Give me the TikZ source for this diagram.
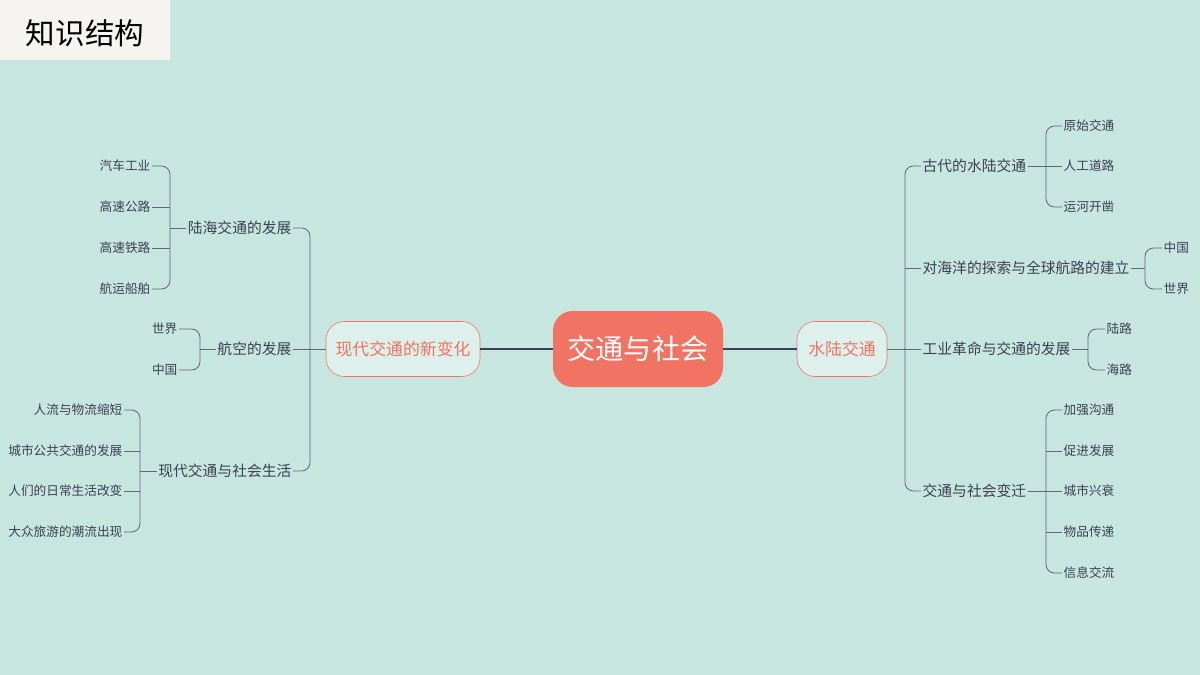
\documentclass[tikz,border=0pt]{standalone}
\usepackage{fontspec}
\setmainfont{Noto Sans CJK SC}
\usetikzlibrary{positioning, calc}
\definecolor{bgteal}{HTML}{C7E6E0}
\definecolor{salmon}{HTML}{F07363}
\definecolor{inkgray}{HTML}{3B3F52}
\definecolor{linenavy}{HTML}{3A3F5C}
\definecolor{titlebg}{HTML}{F6F4F0}

\begin{document}
\begin{tikzpicture}[
    x=0.025cm, y=-0.025cm,
    main/.style={rectangle, rounded corners=14pt, fill=salmon, text=white, minimum width=170*0.025cm, minimum height=76*0.025cm, font=\fontsize{20}{22}\selectfont},
    topic/.style={rectangle, rounded corners=13pt, draw=salmon, fill=bgteal!60!white, text=salmon, minimum height=55*0.025cm, font=\fontsize{12}{14}\selectfont},
    lvone/.style={inner sep=1pt, text=inkgray, font=\fontsize{10.5}{12}\selectfont},
    lvtwo/.style={inner sep=1pt, text=inkgray, font=\fontsize{9}{11}\selectfont},
    link/.style={draw=linenavy, line width=1.4pt},
    brace/.style={draw=linenavy!80, line width=0.6pt, rounded corners=6pt}
]
\fill[bgteal] (0,0) rectangle (1200,675);
\fill[titlebg] (0,0) rectangle (170,60);
\node[font=\fontsize{21}{24}\selectfont, text=black] (title) at (85,33) {知识结构};

% centre
\node[main] (root) at (638,349) {交通与社会};
\node[topic, minimum width=154*0.025cm] (modern) at (403,349) {现代交通的新变化};
\node[topic, minimum width=90*0.025cm] (water) at (842,349) {水陆交通};
\draw[link] (root) -- (modern);
\draw[link] (root) -- (water);

% right side
\node[lvone, anchor=west] (ancient) at (921,166) {古代的水陆交通};
\node[lvone, anchor=west] (ocean) at (921,268) {对海洋的探索与全球航路的建立};
\node[lvone, anchor=west] (indus) at (921,349) {工业革命与交通的发展};
\node[lvone, anchor=west] (change) at (921,491) {交通与社会变迁};
\draw[brace] (ancient.west) -- (905,166) |- (change.west);
\draw[brace] (ocean.west) -- (905,268);
\draw[brace] (water.east) -- (indus.west);

\node[lvtwo, anchor=west] (orig) at (1062,126) {原始交通};
\node[lvtwo, anchor=west] (road) at (1062,166) {人工道路};
\node[lvtwo, anchor=west] (canal) at (1062,207) {运河开凿};
\draw[brace] (orig.west) -- (1046,126) |- (canal.west);
\draw[brace] (ancient.east) -- (road.west);

\node[lvtwo, anchor=west] (ocn) at (1162,248) {中国};
\node[lvtwo, anchor=west] (ows) at (1162,289) {世界};
\draw[brace] (ocn.west) -- (1145,248) |- (ows.west);
\draw[brace] (ocean.east) -- (1145,268);

\node[lvtwo, anchor=west] (land) at (1105,329) {陆路};
\node[lvtwo, anchor=west] (sea) at (1105,370) {海路};
\draw[brace] (land.west) -- (1088,329) |- (sea.west);
\draw[brace] (indus.east) -- (1088,349);

\node[lvtwo, anchor=west] (ca) at (1062,410) {加强沟通};
\node[lvtwo, anchor=west] (cb) at (1062,451) {促进发展};
\node[lvtwo, anchor=west] (cc) at (1062,491) {城市兴衰};
\node[lvtwo, anchor=west] (cd) at (1062,532) {物品传递};
\node[lvtwo, anchor=west] (ce) at (1062,573) {信息交流};
\draw[brace] (ca.west) -- (1046,410) |- (ce.west);
\draw[brace] (cb.west) -- (1046,451);
\draw[brace] (cd.west) -- (1046,532);
\draw[brace] (change.east) -- (cc.west);

% left side
\node[lvone, anchor=east] (landsea) at (293,228) {陆海交通的发展};
\node[lvone, anchor=east] (air) at (293,349) {航空的发展};
\node[lvone, anchor=east] (life) at (293,471) {现代交通与社会生活};
\draw[brace] (landsea.east) -- (310,228) |- (life.east);
\draw[brace] (modern.west) -- (air.east);

\node[lvtwo, anchor=east] (car) at (152,166) {汽车工业};
\node[lvtwo, anchor=east] (hwy) at (152,207) {高速公路};
\node[lvtwo, anchor=east] (rail) at (152,248) {高速铁路};
\node[lvtwo, anchor=east] (ship) at (152,289) {航运船舶};
\draw[brace] (car.east) -- (170,166) |- (ship.east);
\draw[brace] (hwy.east) -- (170,207);
\draw[brace] (rail.east) -- (170,248);
\draw[brace] (landsea.west) -- (170,228);

\node[lvtwo, anchor=east] (aws) at (179,329) {世界};
\node[lvtwo, anchor=east] (acn) at (179,370) {中国};
\draw[brace] (aws.east) -- (200,329) |- (acn.east);
\draw[brace] (air.west) -- (200,349);

\node[lvtwo, anchor=east] (la) at (124,410) {人流与物流缩短};
\node[lvtwo, anchor=east] (lb) at (124,451) {城市公共交通的发展};
\node[lvtwo, anchor=east] (lc) at (124,491) {人们的日常生活改变};
\node[lvtwo, anchor=east] (ld) at (124,532) {大众旅游的潮流出现};
\draw[brace] (la.east) -- (140,410) |- (ld.east);
\draw[brace] (lb.east) -- (140,451);
\draw[brace] (lc.east) -- (140,491);
\draw[brace] (life.west) -- (140,471);
\end{tikzpicture}
\end{document}
